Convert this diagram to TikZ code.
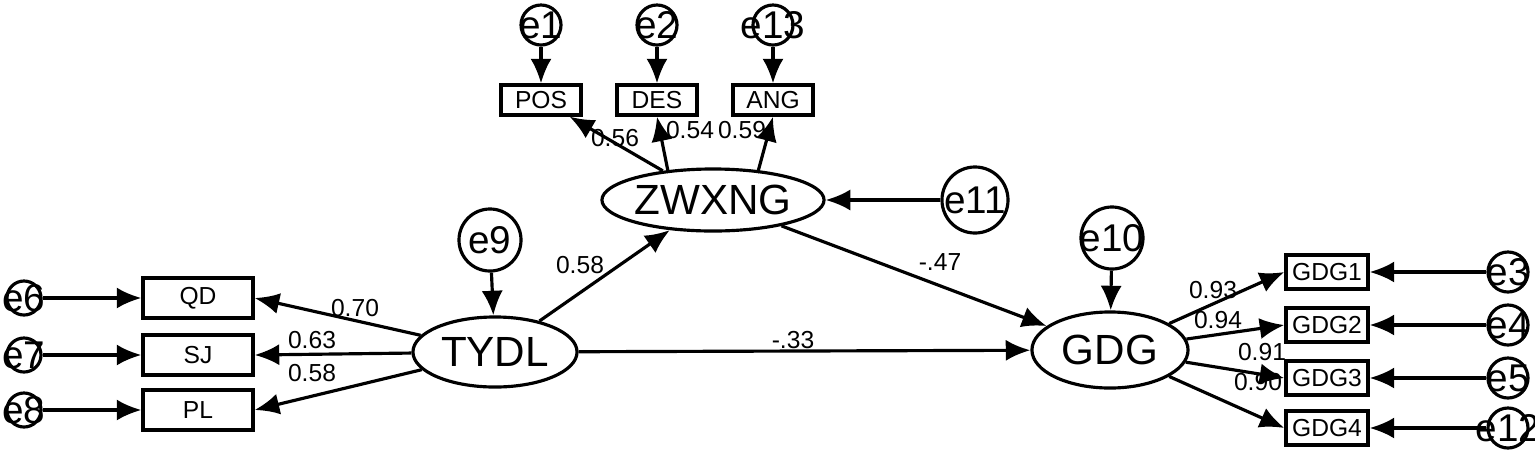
\documentclass[tikz,border=0pt]{standalone}
\usepackage{fontspec}
\setmainfont{Liberation Sans}
\usetikzlibrary{arrows.meta,shapes.geometric}
\begin{document}
\begin{tikzpicture}[x=0.01cm,y=-0.01cm,
 ar/.style={-{Latex[length=7pt,width=6pt]},line width=0.9pt},
 obs/.style={draw,line width=0.9pt,minimum width=0.8cm,minimum height=0.3cm,inner sep=0pt,font=\fontsize{7}{8}\selectfont},
 obsb/.style={obs,minimum width=1.1cm,minimum height=0.4cm},
 lat/.style={draw,ellipse,line width=0.9pt,inner sep=0pt,font=\fontsize{12}{14}\selectfont},
 err/.style={draw,circle,line width=0.9pt,inner sep=0pt,label={[font=\fontsize{11}{13}\selectfont,inner sep=0pt]center:#1}},
 lab/.style={font=\fontsize{7}{8}\selectfont,inner sep=1pt}]
\useasboundingbox (0,0) rectangle (1535,454);
\node[err=e1,minimum size=0.4cm] (e1) at (541,25) {};
\node[err=e2,minimum size=0.4cm] (e2) at (657,25) {};
\node[err=e13,minimum size=0.4cm] (e13) at (773,25) {};
\node[obs] (POS) at (541,100) {POS};
\node[obs] (DES) at (657,100) {DES};
\node[obs] (ANG) at (773,100) {ANG};
\node[lat,minimum width=1.66cm,minimum height=0.62cm] (Z) at (713,200) {ZWXNG};
\node[err=e11,minimum size=0.66cm] (e11) at (975,200) {};
\node[err=e9,minimum size=0.62cm] (e9) at (490,240) {};
\node[lat,minimum width=1.64cm,minimum height=0.7cm] (T) at (495,352) {TYDL};
\node[obsb] (QD) at (198,298) {QD};
\node[obsb] (SJ) at (198,355) {SJ};
\node[obsb] (PL) at (198,410) {PL};
\node[err=e6,minimum size=0.34cm] (e6) at (24,298) {};
\node[err=e7,minimum size=0.34cm] (e7) at (24,355) {};
\node[err=e8,minimum size=0.34cm] (e8) at (24,410) {};
\node[err=e10,minimum size=0.62cm] (e10) at (1112,238) {};
\node[lat,minimum width=1.56cm,minimum height=0.76cm] (G) at (1110,350) {GDG};
\node[obs,minimum width=0.82cm,minimum height=0.34cm] (G1) at (1327,272) {GDG1};
\node[obs,minimum width=0.82cm,minimum height=0.34cm] (G2) at (1327,325) {GDG2};
\node[obs,minimum width=0.82cm,minimum height=0.34cm] (G3) at (1327,378) {GDG3};
\node[obs,minimum width=0.82cm,minimum height=0.34cm] (G4) at (1327,428) {GDG4};
\node[err=e3,minimum size=0.4cm] (e3) at (1508,272) {};
\node[err=e4,minimum size=0.4cm] (e4) at (1508,325) {};
\node[err=e5,minimum size=0.4cm] (e5) at (1508,378) {};
\node[err=e12,minimum size=0.4cm] (e12) at (1508,428) {};
\foreach \a/\b in {e1/POS,e2/DES,e13/ANG,e11/Z,e9/T,e10/G,e6/QD,e7/SJ,e8/PL,e3/G1,e4/G2,e5/G3,e12/G4}
  \draw[ar] (\a) -- (\b);
\draw[ar] (Z) -- (POS);
\draw[ar] (Z.north west) ++(35,-4) -- (DES.south);
\draw[ar] (Z.north east) ++(-35,-4) -- (ANG.south);
\draw[ar] (T) -- (Z);
\draw[ar] (Z) -- (G);
\draw[ar] (T) -- (G);
\draw[ar] (T) -- (QD.east);
\draw[ar] (T) -- (SJ.east);
\draw[ar] (T) -- (PL.east);
\draw[ar] (G) -- (G1.west);
\draw[ar] (G) -- (G2.west);
\draw[ar] (G) -- (G3.west);
\draw[ar] (G) -- (G4.west);
\node[lab] (l1) at (615,138) {0.56};
\node[lab] (l2) at (690,130) {0.54};
\node[lab] (l3) at (742,130) {0.59};
\node[lab] (l4) at (580,265) {0.58};
\node[lab] (l5) at (355,308) {0.70};
\node[lab] (l6) at (312,340) {0.63};
\node[lab] (l7) at (312,373) {0.58};
\node[lab] (l8) at (940,262) {-.47};
\node[lab] (l9) at (793,340) {-.33};
\node[lab] (l10) at (1213,290) {0.93};
\node[lab] (l11) at (1218,320) {0.94};
\node[lab] (l12) at (1262,352) {0.91};
\node[lab] (l13) at (1258,382) {0.90};
\end{tikzpicture}
\end{document}
